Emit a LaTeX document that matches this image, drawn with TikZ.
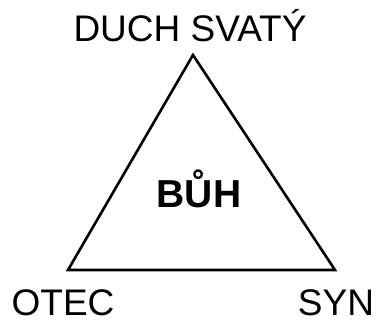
\documentclass[tikz,border=0pt]{standalone}
\usepackage{fontspec}
\setmainfont{Liberation Sans}
\begin{document}
\begin{tikzpicture}[x=1pt,y=-1pt,
    popis/.style={anchor=base,inner sep=0pt,font=\fontsize{37}{44}\selectfont},
    stred/.style={anchor=base,inner sep=0pt,font=\fontsize{39}{46}\selectfont\bfseries}]
    \useasboundingbox (0,0) rectangle (376,321);
    % Vrcholy trojúhelníku a jejich popisky.
    \coordinate (duch) at (193,55);
    \coordinate (otec) at (68,270);
    \coordinate (syn) at (335,270);
    \draw[line width=2.6pt, line join=miter] (duch) -- (otec) -- (syn) -- cycle;
    \node[popis] (duchL) at (190,42) {DUCH SVATÝ};
    \node[popis] (otecL) at (63,316) {OTEC};
    \node[popis] (synL) at (336,316) {SYN};
    \node[stred] (buh) at (199,208) {BŮH};
\end{tikzpicture}
\end{document}
